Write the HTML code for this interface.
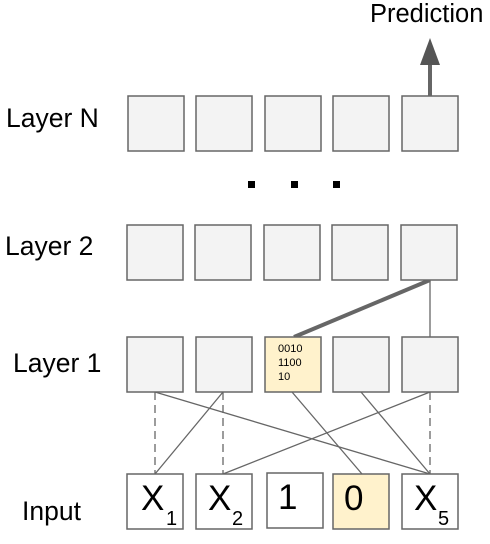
<!DOCTYPE html>
<html><head><meta charset="utf-8"><style>
body{margin:0;background:#fff;}
svg{display:block;font-family:"Liberation Sans",sans-serif;}
</style></head><body>
<svg width="490" height="544" viewBox="0 0 490 544">
<g font-size="26.5" fill="#000">
<text x="6" y="127">Layer N</text>
<text x="5" y="255">Layer 2</text>
<text x="13" y="372">Layer 1</text>
<text x="22" y="520">Input</text>
<text x="370" y="22" font-size="25.5">Prediction</text>
</g>
<g stroke="#666" stroke-width="1.3" fill="none">
<line x1="155" y1="392" x2="155" y2="474" stroke-dasharray="8,5"/>
<line x1="223" y1="392" x2="223" y2="474" stroke-dasharray="8,5"/>
<line x1="430" y1="392" x2="430" y2="474" stroke-dasharray="8,5"/>
<line x1="155" y1="392" x2="430" y2="474"/>
<line x1="223" y1="392" x2="155" y2="474"/>
<line x1="292" y1="392" x2="362" y2="474"/>
<line x1="361" y1="392" x2="430" y2="474"/>
<line x1="430" y1="392" x2="223" y2="474"/>
<line x1="430" y1="280" x2="430" y2="337"/>
<line x1="430" y1="280" x2="294" y2="337" stroke-width="4"/>
<line x1="430" y1="96" x2="430" y2="60" stroke-width="4"/>
</g>
<polygon points="430,38 420,65 440,65" fill="#555"/>
<g stroke="#666" stroke-width="1.5" fill="#f3f3f3">
<g>
<rect x="128" y="96" width="56" height="55"/><rect x="196" y="96" width="56" height="55"/><rect x="265" y="96" width="56" height="55"/><rect x="333" y="96" width="56" height="55"/><rect x="402" y="96" width="56" height="55"/>
</g>
<g>
<rect x="127" y="225" width="56" height="55"/><rect x="195" y="225" width="56" height="55"/><rect x="264" y="225" width="56" height="55"/><rect x="332" y="225" width="56" height="55"/><rect x="401" y="225" width="56" height="55"/>
</g>
<g>
<rect x="127" y="337" width="56" height="55"/><rect x="196" y="337" width="56" height="55"/><rect x="265" y="337" width="56" height="55" fill="#fff2cc"/><rect x="333" y="337" width="56" height="55"/><rect x="402" y="337" width="56" height="55"/>
</g>
<g>
<rect x="127" y="474" width="56" height="55" fill="#fff"/><rect x="196" y="474" width="56" height="55" fill="#fff"/><rect x="267" y="473" width="56" height="55" fill="#fff"/><rect x="333" y="474" width="56" height="55" fill="#fff2cc"/><rect x="402" y="474" width="56" height="55" fill="#fff"/>
</g>
</g>
<g fill="#000">
<rect x="248" y="181" width="7" height="7"/><rect x="291" y="181" width="7" height="7"/><rect x="333" y="181" width="7" height="7"/>
</g>
<g font-size="11" fill="#000">
<text x="278" y="352">0010</text><text x="278" y="366">1100</text><text x="278" y="380">10</text>
</g>
<g font-size="35" fill="#000">
<text x="141" y="510">X</text><text x="166" y="525" font-size="20">1</text>
<text x="208" y="510">X</text><text x="232" y="525" font-size="20">2</text>
<text x="278" y="509">1</text>
<text x="344" y="510">0</text>
<text x="414" y="510">X</text><text x="438" y="525" font-size="20">5</text>
</g>
</svg>
</body></html>
